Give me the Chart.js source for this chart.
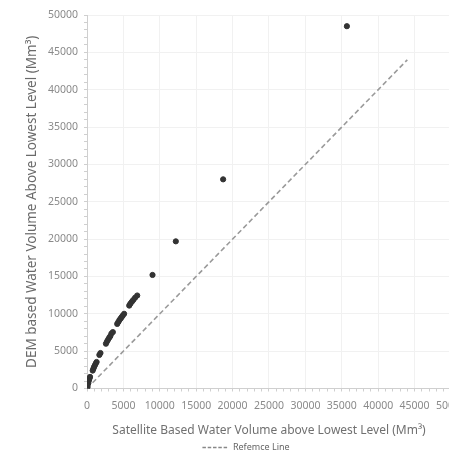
<!DOCTYPE html>
<html>
<head>
<meta charset="utf-8">
<script src="https://cdn.jsdelivr.net/npm/chart.js@4.4.1/dist/chart.umd.min.js"></script>
<style>
  html, body { margin: 0; padding: 0; background: #fff; overflow: hidden; }
  #wrap { width: 449px; height: 462px; overflow: hidden; }
</style>
</head>
<body>
<div id="wrap"><canvas id="myChart" width="474" height="462"></canvas></div>
<script>
// Satellite based volume (x) vs DEM based volume (y), Mm3
var satelliteVolume = [0, 80, 180, 250, 330, 420,
  780, 880, 980, 1080, 1200, 1320,
  1700, 1850,
  2600, 2750, 2900, 3050, 3200, 3350, 3550,
  4150, 4300, 4450, 4600, 4750, 4900, 5100,
  5800, 5950, 6150, 6350, 6600, 6900,
  9000, 12200, 18700, 35700];
var demVolume = [0, 200, 700, 1050, 1300, 1550,
  2400, 2650, 2900, 3100, 3350, 3550,
  4500, 4750,
  6000, 6300, 6550, 6800, 7000, 7350, 7550,
  8650, 8900, 9150, 9350, 9550, 9750, 10000,
  11100, 11350, 11600, 11850, 12150, 12450,
  15200, 19700, 28000, 48500];

// reference line end points
var refX = [0, 44000];
var refY = [0, 44000];

var axisMin = 0, axisMax = 50000, majorStep = 5000, minorStep = 1000;

function toPoints(xs, ys) {
  return xs.map(function (x, i) { return { x: x, y: ys[i] }; });
}

var tickFont = { family: 'Noto Sans', size: 10.5 };

function majorLabel(v) {
  return v % majorStep === 0 ? v : '';
}
function gridColor(c) {
  return c.tick && c.tick.value % majorStep === 0 ? '#f1f1f1' : 'rgba(0,0,0,0)';
}

// legend in the original sits a little right of the canvas centre
var shiftLegend = {
  id: 'shiftLegend',
  afterUpdate: function (chart) {
    chart.legend.left += 9;
    chart.legend.right += 9;
  }
};

var ctx = document.getElementById('myChart').getContext('2d');
var chart = new Chart(ctx, {
  type: 'scatter',
  data: {
    datasets: [{
      label: 'Data',
      data: toPoints(satelliteVolume, demVolume),
      backgroundColor: '#333333',
      borderColor: '#333333',
      pointRadius: 2.6,
      pointHoverRadius: 2.6
    },
    {
      label: 'Refemce Line',
      type: 'line',
      data: toPoints(refX, refY),
      borderColor: '#9a9a9a',
      borderWidth: 1.6,
      borderDash: [5, 3],
      pointRadius: 0,
      fill: false
    }]
  },
  plugins: [shiftLegend],
  options: {
    responsive: false,
    animation: false,
    layout: { padding: { top: 15, left: 0, right: 0, bottom: 0 } },
    plugins: {
      tooltip: { enabled: false },
      legend: {
        position: 'bottom',
        labels: {
          usePointStyle: true,
          pointStyleWidth: 26,
          boxWidth: 26,
          generateLabels: function (chart) {
            var items = Chart.defaults.plugins.legend.labels.generateLabels(chart);
            items = items.filter(function (it) { return it.datasetIndex === 1; });
            items.forEach(function (it) {
              it.pointStyle = 'line';
              it.lineDash = [3.5, 1.8];
              it.lineWidth = 1.4;
              it.strokeStyle = '#888';
            });
            return items;
          },
          font: { family: 'Noto Sans', size: 9 },
          color: '#666',
          padding: 5.5
        }
      }
    },
    scales: {
      x: {
        type: 'linear',
        min: axisMin, max: axisMax,
        ticks: {
          stepSize: minorStep, autoSkip: false, maxRotation: 0,
          callback: majorLabel, font: tickFont, color: '#8a8a8a', padding: 8
        },
        grid: { color: gridColor, tickColor: '#cfcfcf', tickLength: 3 },
        border: { color: '#cfcfcf' },
        title: {
          display: true,
          text: 'Satellite Based Water Volume above Lowest Level (Mm³)',
          font: { family: 'Noto Sans', size: 12 }, color: '#707070',
          padding: { top: 3, bottom: 0 }
        }
      },
      y: {
        type: 'linear',
        min: axisMin, max: axisMax,
        afterFit: function (scale) { scale.width = 87; },
        ticks: {
          stepSize: minorStep, autoSkip: false,
          callback: majorLabel, font: tickFont, color: '#8a8a8a', padding: 6
        },
        grid: { color: gridColor, tickColor: '#cfcfcf', tickLength: 3 },
        border: { color: '#cfcfcf' },
        title: {
          display: true,
          text: 'DEM based Water Volume Above Lowest Level (Mm³)',
          font: { family: 'Noto Sans', size: 13.5 }, color: '#6a6a6a',
          padding: { top: 24, bottom: 0 }
        }
      }
    }
  }
});
</script>
</body>
</html>
